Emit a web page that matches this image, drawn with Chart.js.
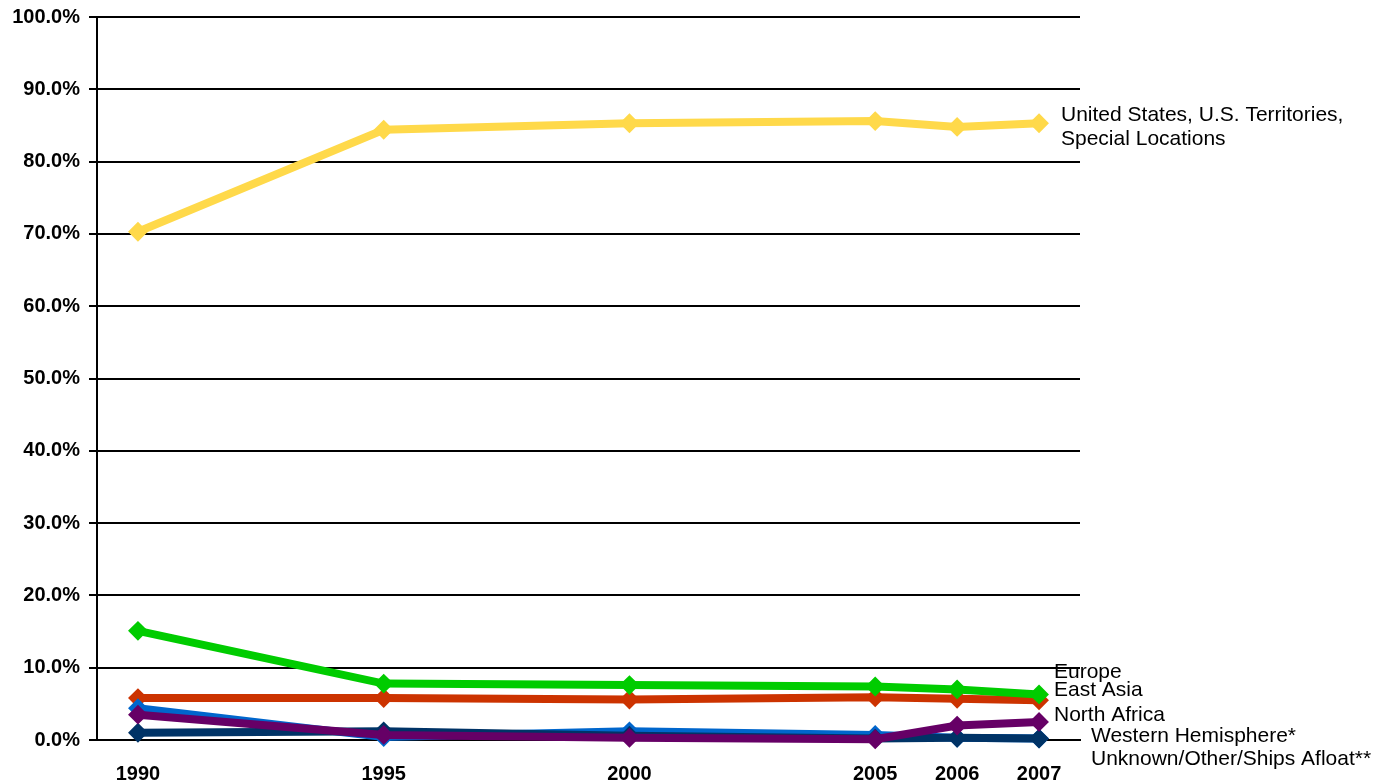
<!DOCTYPE html>
<html><head><meta charset="utf-8">
<script src="https://cdn.jsdelivr.net/npm/chart.js@4"></script>
<style>html,body{margin:0;padding:0;background:#fff;overflow:hidden;}</style>
</head><body>
<canvas id="c" width="1387" height="781"></canvas>
<script>
// Category slots along the x axis (blank slots keep the original uneven spacing)
const xSlots = ['1990','','','1995','','','2000','','','2005','2006','2007'];
const years = ['1990','1995','2000','2005','2006','2007'];
const yTicks = [0,10,20,30,40,50,60,70,80,90,100];

// Series values (% of personnel), one per year
const usTerritories     = [70.3, 84.4, 85.3, 85.6, 84.8, 85.3];
const europe            = [15.1, 7.8, 7.6, 7.4, 7.0, 6.3];
const eastAsia          = [5.8, 5.8, 5.6, 5.9, 5.7, 5.5];
const northAfrica       = [3.5, 0.7, 0.3, 0.1, 2.0, 2.5];
const westernHemisphere = [4.4, 0.4, 1.2, 0.7, 0.3, 0.2];
const unknownOther      = [1.0, 1.2, 0.6, 0.2, 0.3, 0.2];

function toSlots(vals){
  return xSlots.map(l => { const i = years.indexOf(l); return (l && i >= 0) ? vals[i] : null; });
}

function ds(label, vals, color){
  return {
    label, data: toSlots(vals), borderColor: color, backgroundColor: color,
    borderWidth: 8, pointStyle: 'rectRot', pointRadius: 8.5, pointBorderWidth: 2,
    pointBorderColor: color, pointBackgroundColor: color, spanGaps: true, tension: 0, clip: false
  };
}

const seriesLabels = [
  {lines:['United States, U.S. Territories,','Special Locations'], dx:-19, y:115},
  {lines:['Europe'], dx:-26, y:672},
  {lines:['East Asia'], dx:-26, y:690},
  {lines:['North Africa'], dx:-26, y:715},
  {lines:['Western Hemisphere*'], dx:11, y:736},
  {lines:['Unknown/Other/Ships Afloat**'], dx:11, y:759}
];

const labelPlugin = {
  id: 'sideLabels',
  afterDraw(chart){
    const ctx = chart.ctx, ca = chart.chartArea;
    ctx.save();
    ctx.font = "21px 'Liberation Sans', Arial, sans-serif";
    ctx.fillStyle = '#000';
    ctx.textBaseline = 'middle';
    ctx.textAlign = 'left';
    seriesLabels.forEach(s => {
      s.lines.forEach((t, k) => ctx.fillText(t, ca.right + s.dx, s.y + k*24));
    });
    ctx.restore();
  }
};

Chart.defaults.font.family = "'Liberation Sans', Arial, sans-serif";
Chart.defaults.color = '#000';

new Chart(document.getElementById('c'), {
  type: 'line',
  data: {
    labels: xSlots,
    datasets: [
      ds('North Africa', northAfrica, '#660066'),
      ds('Unknown/Other/Ships Afloat**', unknownOther, '#003366'),
      ds('Western Hemisphere*', westernHemisphere, '#0066CC'),
      ds('Europe', europe, '#00CC00'),
      ds('East Asia', eastAsia, '#CC3300'),
      ds('United States, U.S. Territories, Special Locations', usTerritories, '#FFD94A')
    ]
  },
  options: {
    responsive: false,
    animation: false,
    devicePixelRatio: 1,
    layout: { padding: { top: 17, right: 307, left: 0, bottom: 0 } },
    plugins: { legend: { display: false }, tooltip: { enabled: false }, title: { display: false } },
    scales: {
      x: {
        type: 'category',
        offset: true,
        grid: { display: false },
        border: { display: true, color: '#000', width: 2 },
        ticks: { autoSkip: false, maxRotation: 0, minRotation: 0, padding: 14,
                 font: { size: 20, weight: 'bold' }, color: '#000' },
        afterFit(scale){ scale.height = 41; scale.paddingLeft = 0; scale.paddingRight = 0; }
      },
      y: {
        min: 0, max: 100,
        afterBuildTicks(scale){ scale.ticks = yTicks.map(v => ({value: v})); },
        grid: { color: '#000', lineWidth: 2, tickLength: 8, drawTicks: true },
        border: { display: true, color: '#000', width: 2 },
        ticks: { padding: 9, font: { size: 20, weight: 'bold' }, color: '#000',
                 callback: v => v.toFixed(1) + '%' },
        afterFit(scale){ scale.width = 97; scale.paddingTop = 0; scale.paddingBottom = 0; }
      }
    }
  },
  plugins: [labelPlugin]
});
</script>
</body></html>
